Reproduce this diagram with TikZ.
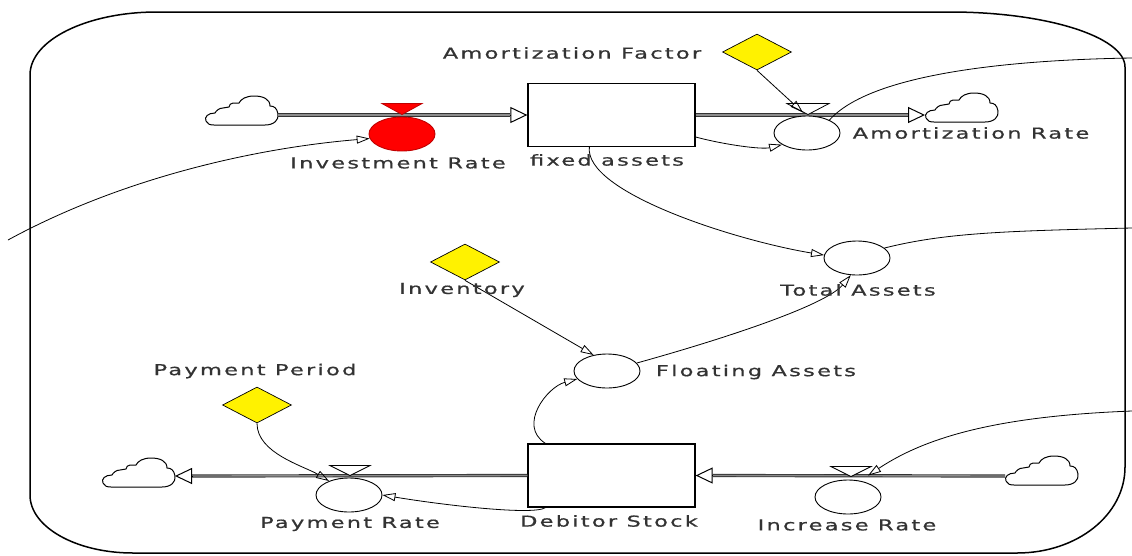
\documentclass[tikz,border=0pt]{standalone}
\usepackage{fontspec}
\newfontfamily\lblfont[FakeStretch=1.5,LetterSpace=15,FakeBold=0.8]{DejaVu Sans}
\usetikzlibrary{arrows.meta,shapes.geometric,calc}
\tikzset{
  cloudpic/.pic={\draw[line width=1pt, fill=white] (-27,14) -- (24,14) .. controls (33,14) and (38,9) .. (37,3) .. controls (36,-3) and (33,-5) .. (29,-5) .. controls (29,-12) and (22,-15) .. (13,-15) .. controls (5,-15) and (0,-12) .. (-2,-8) -- (-8,-8) .. controls (-10,-8) and (-12,-6) .. (-12,-4) -- (-18,-3) .. controls (-22,-3) and (-25,0) .. (-26,2) .. controls (-33,2) and (-37,6) .. (-35,10) .. controls (-34,13) and (-31,14) .. (-27,14) -- cycle;}
}
\begin{document}
\begin{tikzpicture}[x=1pt,y=-1pt,
  lbl/.style={font=\lblfont\fontsize{15}{16}\selectfont, text=black!80, inner sep=0pt},
  stockbox/.style={draw=black, line width=1.3pt, fill=white, minimum width=167pt, minimum height=63pt, inner sep=0pt},
  aux/.style={ellipse, draw=black, line width=0.9pt, fill=white, minimum width=66pt, minimum height=34pt, inner sep=0pt},
  const/.style={diamond, draw=black, line width=0.7pt, fill=yellow, minimum width=69pt, minimum height=36pt, inner sep=0pt},
  link/.style={draw=black, line width=0.8pt, -{Triangle[open,length=13pt,width=8pt]}},
  pipe/.style={draw=black!80, double=black!45, double distance=1.4pt, line width=0.9pt},
  pipetip/.style={draw=black, line width=1pt, -{Triangle[open,length=17pt,width=16pt]}},
  valvetri/.style={draw=black, line width=0.8pt, fill=white},
  border/.style={draw=black, line width=1.5pt},
]
\useasboundingbox (0,0) rectangle (1132,555);
% border
\draw[border] (30,75) .. controls (30,40) and (87,12) .. (157,12) -- (950,12)
  .. controls (1047,12) and (1125,37) .. (1125,67) -- (1125,467)
  .. controls (1125,515) and (1077,553) .. (1017,553) -- (133,553)
  .. controls (76,553) and (30,527) .. (30,495) -- cycle;

% clouds
\pic at (241,111) {cloudpic};
\pic at (961,108) {cloudpic};
\pic at (138,473) {cloudpic};
\pic at (1041,471) {cloudpic};
\coordinate (c1) at (278,115);
\coordinate (c2) at (925,115);
\coordinate (c3) at (175,476);
\coordinate (c4) at (1005,476);

% stocks
\node[stockbox] (fa) at (611.5,115) {};
\node[stockbox] (ds) at (611.5,475.5) {};

% pipes
\draw[pipe] (c1) -- ($(fa.west)+(-17,0)$);
\draw[pipetip] ($(fa.west)+(-17,0)$) -- (fa.west);
\draw[pipe] (fa.east) -- ($(c2)+(-17,0)$);
\draw[pipetip] ($(c2)+(-17,0)$) -- (c2);
\draw[pipe] (ds.west) -- ($(c3)+(17,0)$);
\draw[pipetip] ($(c3)+(17,0)$) -- (c3);
\draw[pipe] (c4) -- ($(ds.east)+(17,0)$);
\draw[pipetip] ($(ds.east)+(17,0)$) -- (ds.east);

% auxiliaries / valves
\node[aux, fill=red, draw=red!75!black] (ir) at (402,134) {};
\draw[fill=red, draw=red!75!black, line width=0.8pt] ($(ir.north)+(-20,-13)$) -- ($(ir.north)+(20,-13)$) -- ($(ir.north)+(0,-2)$) -- cycle;
\node[aux] (ar) at (807,133) {};
\draw[valvetri] ($(ar.north)+(-20,-12)$) -- ($(ar.north)+(22,-12)$) -- ($(ar.north)+(1,-1)$) -- cycle;
\node[aux] (pr) at (349,495) {};
\draw[valvetri] ($(pr.north)+(-19,-12)$) -- ($(pr.north)+(21,-12)$) -- ($(pr.north)+(1,-2)$) -- cycle;
\node[aux] (inc) at (848,497) {};
\draw[valvetri] ($(inc.north)+(-17,-13)$) -- ($(inc.north)+(23,-13)$) -- ($(inc.north)+(3,-3)$) -- cycle;
\node[aux] (ta) at (857,258) {};
\node[aux] (fl) at (607,371) {};

% constants
\node[const] (af) at (757,52) {};
\node[const] (inv) at (465,262) {};
\node[const] (pp) at (257,405) {};

% off-picture ends
\coordinate (offL) at (8,240);
\coordinate (offR1) at (1132,58);
\coordinate (offR2) at (1132,228);
\coordinate (offR3) at (1132,411);

% links
\draw[link] (inv.south) -- (fl.130);
\draw[link] (pp.south) .. controls +(0,30) and +(-25,-15) .. (pr.145);
\draw[link] ($(ds.south west)+(18,0)$) .. controls +(-12,8) and +(60,10) .. (pr.east);
\draw[link] ($(ds.north west)+(18,0)$) .. controls +(-28,-18) and +(-30,8) .. (fl.195);
\draw[link] (fl.15) .. controls +(90,-25) and +(-25,30) .. (ta.250);
\draw[link] ($(fa.south west)+(62,0)$) .. controls +(-5,45) and +(-90,-15) .. (ta.175);
\draw[link] ($(fa.east)+(0,22)$) .. controls +(30,8) and +(-20,5) .. (ar.205);
\draw[link] (af.south) -- ($(ar.north)+(-4,-3)$);
\draw[draw=black, line width=0.8pt] (ar.30) .. controls +(40,-45) and +(-130,2) .. (offR1);
\draw[link] (offL) .. controls +(110,-60) and +(-120,10) .. (ir.188);
\draw[draw=black, line width=0.8pt] (ta.20) .. controls +(60,-15) and +(-130,3) .. (offR2);
\draw[link] (offR3) .. controls +(-130,5) and +(60,-40) .. ($(inc.north)+(20,-4)$);

% labels
\node[lbl] at (398,163) {Investment Rate};
\node[lbl] at (607,160) {fixed assets};
\node[lbl] at (572,53) {Amortization Factor};
\node[lbl] at (971,133) {Amortization Rate};
\node[lbl] at (858,290) {Total Assets};
\node[lbl] at (462,290) {Inventory};
\node[lbl] at (756,372) {Floating Assets};
\node[lbl] at (255,371) {Payment Period};
\node[lbl] at (350,524) {Payment Rate};
\node[lbl] at (609,521) {Debitor Stock};
\node[lbl] at (847,525) {Increase Rate};
\end{tikzpicture}
\end{document}
